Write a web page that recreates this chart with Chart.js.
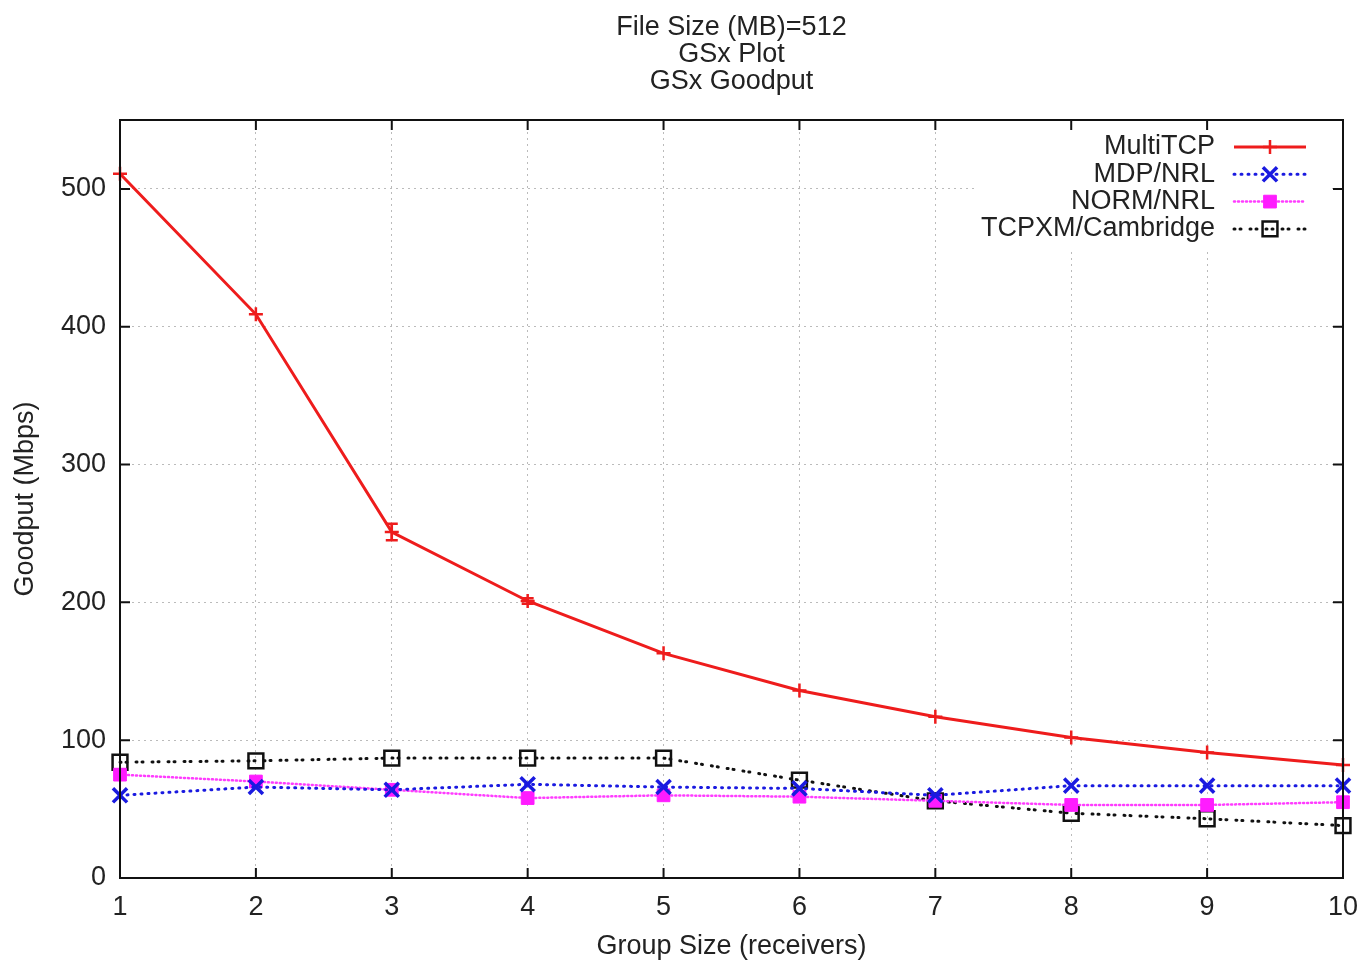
<!DOCTYPE html>
<html>
<head>
<meta charset="utf-8">
<script src="https://cdn.jsdelivr.net/npm/chart.js@4"></script>
<style>
  html, body { margin: 0; padding: 0; background: #fff; }
  #wrap { width: 1358px; height: 960px; }
</style>
</head>
<body>
<div id="wrap"><canvas id="goodputChart" width="1358" height="960"></canvas></div>
<script>
// data
const groupSizes = [1, 2, 3, 4, 5, 6, 7, 8, 9, 10];
const multiTcp   = [511, 409, 251, 201, 163, 136, 117, 102, 91, 82];
const multiTcpErr = [0, 0, 6, 2, 0, 0, 0, 0, 0, 0];
const mdpNrl     = [60, 66, 64, 68, 66, 65, 60, 67, 67, 67];
const normNrl    = [75, 70, 64, 58, 60, 59, 56, 53, 53, 55];
const tcpxm      = [84, 85, 87, 87, 87, 71, 56, 47, 43, 38];
const yTicks = [0, 100, 200, 300, 400, 500];
const titleLines = ["File Size (MB)=512", "GSx Plot", "GSx Goodput"];

const FONT = "'Liberation Sans', Arial, sans-serif";
const FSIZE = 27;
const TEXT = "#222";

function pts(vals) {
    return vals.map((v, i) => ({ x: groupSizes[i], y: v }));
}

// gnuplot-like frame: title, box, inward ticks, error bars, legend
const gnuFrame = {
    id: "gnuFrame",
    afterDatasetsDraw(chart) {
        const { ctx, scales: { x, y } } = chart;
        // error bars on MultiTCP
        ctx.save();
        ctx.strokeStyle = chart.data.datasets[0].borderColor;
        ctx.lineWidth = 2.5;
        multiTcpErr.forEach((e, i) => {
            if (!e) return;
            const px = x.getPixelForValue(groupSizes[i]);
            const y1 = y.getPixelForValue(multiTcp[i] - e);
            const y2 = y.getPixelForValue(multiTcp[i] + e);
            ctx.beginPath();
            ctx.moveTo(px, y1); ctx.lineTo(px, y2);
            ctx.moveTo(px - 6, y1); ctx.lineTo(px + 6, y1);
            ctx.moveTo(px - 6, y2); ctx.lineTo(px + 6, y2);
            ctx.stroke();
        });
        ctx.restore();
    },
    afterDraw(chart) {
        const { ctx, chartArea: a, scales: { x, y } } = chart;
        ctx.save();

        // title centred over the plot area
        ctx.fillStyle = TEXT;
        ctx.font = FSIZE + "px " + FONT;
        ctx.textAlign = "center";
        ctx.textBaseline = "middle";
        const cx = (a.left + a.right) / 2;
        titleLines.forEach((t, i) => ctx.fillText(t, cx, 28 + i * 27));

        // legend box (white, covers grid)
        ctx.fillStyle = "#fff";
        ctx.fillRect(975, a.top + 8, a.right - 975 - 12, 120);

        // frame
        ctx.strokeStyle = "#111";
        ctx.lineWidth = 2;
        ctx.strokeRect(a.left, a.top, a.right - a.left, a.bottom - a.top);

        // inward ticks
        ctx.beginPath();
        x.ticks.forEach(t => {
            const px = x.getPixelForValue(t.value);
            ctx.moveTo(px, a.bottom); ctx.lineTo(px, a.bottom - 10);
            ctx.moveTo(px, a.top); ctx.lineTo(px, a.top + 10);
        });
        yTicks.forEach(v => {
            const py = y.getPixelForValue(v);
            ctx.moveTo(a.left, py); ctx.lineTo(a.left + 10, py);
            ctx.moveTo(a.right, py); ctx.lineTo(a.right - 10, py);
        });
        ctx.stroke();

        // legend entries
        ctx.font = FSIZE + "px " + FONT;
        ctx.textAlign = "right";
        chart.data.datasets.forEach((ds, i) => {
            const ly = 147 + i * 27.3;
            ctx.fillStyle = TEXT;
            ctx.fillText(ds.label, 1215, ly);
            ctx.save();
            ctx.strokeStyle = ds.borderColor;
            ctx.lineWidth = ds.borderWidth;
            ctx.lineCap = ds.borderCapStyle || "butt";
            ctx.setLineDash(ds.borderDash || []);
            ctx.beginPath();
            ctx.moveTo(1234, ly); ctx.lineTo(1306, ly);
            ctx.stroke();
            ctx.restore();
            if (Chart.helpers && Chart.helpers.drawPoint) {
                ctx.save();
                ctx.strokeStyle = ds.pointBorderColor;
                ctx.fillStyle = ds.pointBackgroundColor;
                ctx.lineWidth = ds.pointBorderWidth;
                Chart.helpers.drawPoint(ctx, {
                    pointStyle: ds.pointStyle,
                    radius: ds.pointRadius,
                    borderWidth: ds.pointBorderWidth,
                    rotation: 0
                }, 1270, ly);
                ctx.restore();
            }
        });
        ctx.restore();
    }
};

const ctx = document.getElementById("goodputChart").getContext("2d");
new Chart(ctx, {
    type: "line",
    data: {
        datasets: [
            {
                label: "MultiTCP",
                data: pts(multiTcp),
                borderColor: "#ee1c1c",
                borderWidth: 3,
                pointStyle: "cross",
                pointRadius: 7,
                pointBorderWidth: 2.5,
                pointBorderColor: "#ee1c1c",
                pointBackgroundColor: "#ee1c1c"
            },
            {
                label: "MDP/NRL",
                data: pts(mdpNrl),
                borderColor: "#1a1ae0",
                borderWidth: 3,
                borderDash: [1, 6],
                borderCapStyle: "round",
                pointStyle: "crossRot",
                pointRadius: 10,
                pointBorderWidth: 3.5,
                pointBorderColor: "#1a1ae0",
                pointBackgroundColor: "#1a1ae0"
            },
            {
                label: "NORM/NRL",
                data: pts(normNrl),
                borderColor: "#ff3cff",
                borderWidth: 2.5,
                borderDash: [1, 3],
                borderCapStyle: "round",
                pointStyle: "rect",
                pointRadius: 9,
                pointBorderWidth: 1,
                pointBorderColor: "#ff1cff",
                pointBackgroundColor: "#ff1cff"
            },
            {
                label: "TCPXM/Cambridge",
                data: pts(tcpxm),
                borderColor: "#111",
                borderWidth: 3,
                borderDash: [1, 5, 1, 9],
                borderCapStyle: "round",
                pointStyle: "rect",
                pointRadius: 10.5,
                pointBorderWidth: 2.5,
                pointBorderColor: "#111",
                pointBackgroundColor: "rgba(0,0,0,0)"
            }
        ]
    },
    options: {
        responsive: false,
        animation: false,
        clip: false,
        layout: { padding: { top: 120, right: 15, left: 0, bottom: 0 } },
        plugins: {
            legend: { display: false },
            title: { display: false },
            tooltip: { enabled: false }
        },
        scales: {
            x: {
                type: "linear",
                min: 1,
                max: 10,
                ticks: {
                    stepSize: 1,
                    padding: 13,
                    color: TEXT,
                    font: { family: FONT, size: FSIZE }
                },
                grid: { color: "#bbb", lineWidth: 1, drawTicks: false },
                border: { display: false, dash: [2, 4] },
                title: {
                    display: true,
                    text: "Group Size (receivers)",
                    color: TEXT,
                    font: { family: FONT, size: FSIZE },
                    padding: { top: 0, bottom: -3 }
                },
                afterFit(scale) {
                    scale.height = 82;
                    scale.paddingLeft = 0;
                    scale.paddingRight = 0;
                }
            },
            y: {
                min: 0,
                max: 550,
                afterBuildTicks(scale) {
                    scale.ticks = yTicks.map(v => ({ value: v }));
                },
                ticks: {
                    padding: 14,
                    color: TEXT,
                    font: { family: FONT, size: FSIZE }
                },
                grid: { color: "#bbb", lineWidth: 1, drawTicks: false },
                border: { display: false, dash: [2, 4] },
                title: {
                    display: true,
                    text: "Goodput (Mbps)",
                    color: TEXT,
                    font: { family: FONT, size: FSIZE },
                    padding: { top: 9, bottom: 0 }
                },
                afterFit(scale) { scale.width = 120; }
            }
        }
    },
    plugins: [gnuFrame]
});
</script>
</body>
</html>
